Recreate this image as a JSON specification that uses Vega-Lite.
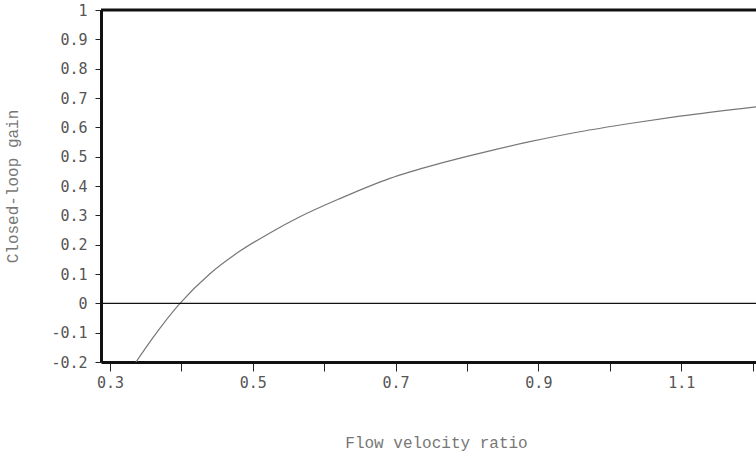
{
  "$schema": "https://vega.github.io/schema/vega-lite/v6.json",
  "autosize": {"type": "none"},
  "padding": {"left": 101, "top": 10, "right": 0, "bottom": 95},
  "width": 655,
  "height": 352,
  "background": "white",
  "config": {
    "view": {"stroke": null},
    "axis": {"grid": false, "labelFont": "DejaVu Sans Mono", "labelFontSize": 15, "labelColor": "#555", "titleFont": "Liberation Mono", "titleFontSize": 16, "titleFontWeight": "normal", "titleColor": "#777", "tickColor": "#222", "domainColor": "#111", "domainWidth": 3},
    "axisY": {"values": [-0.2, -0.1, 0, 0.1, 0.2, 0.3, 0.4, 0.5, 0.6, 0.7, 0.8, 0.9, 1], "labelExpr": "toString(datum.value)", "tickSize": 6, "labelPadding": 8, "titlePadding": 30, "labelOverlap": false, "labelFlush": false}
  },
  "layer": [
    {
      "data": {"values": [
        {"ratio": 0.3364, "gain": -0.2},
        {"ratio": 0.3607, "gain": -0.115},
        {"ratio": 0.398, "gain": 0.0},
        {"ratio": 0.44, "gain": 0.101},
        {"ratio": 0.482, "gain": 0.178},
        {"ratio": 0.524, "gain": 0.24},
        {"ratio": 0.566, "gain": 0.295},
        {"ratio": 0.622, "gain": 0.357},
        {"ratio": 0.692, "gain": 0.426},
        {"ratio": 0.762, "gain": 0.477},
        {"ratio": 0.832, "gain": 0.52},
        {"ratio": 0.888, "gain": 0.551},
        {"ratio": 0.958, "gain": 0.585},
        {"ratio": 1.028, "gain": 0.613},
        {"ratio": 1.098, "gain": 0.638},
        {"ratio": 1.2048, "gain": 0.67}
      ]},
      "mark": {"type": "line", "color": "#777", "strokeWidth": 1.2, "interpolate": "monotone", "clip": true},
      "encoding": {
        "x": {"field": "ratio", "type": "quantitative", "title": "Flow velocity ratio",
          "scale": {"domain": [0.2874, 1.2048], "nice": false, "zero": false},
          "axis": {"values": [0.3, 0.4, 0.5, 0.6, 0.7, 0.8, 0.9, 1.0, 1.1, 1.2],
            "labelExpr": "indexof(['0.3','0.5','0.7','0.9','1.1'], toString(datum.value)) >= 0 ? toString(datum.value) : ''",
            "tickSize": 9, "labelPadding": 4, "titlePadding": 44, "titleX": 335, "labelOverlap": false, "labelFlush": false}},
        "y": {"field": "gain", "type": "quantitative", "title": "Closed-loop gain",
          "scale": {"domain": [-0.2, 1], "nice": false, "zero": false}}
      }
    },
    {
      "data": {"values": [{}]},
      "mark": {"type": "rule", "color": "#111", "strokeWidth": 1.2},
      "encoding": {"y": {"datum": 0, "type": "quantitative", "title": "Closed-loop gain"}}
    },
    {
      "data": {"values": [{}]},
      "mark": {"type": "rule", "color": "#111", "strokeWidth": 3},
      "encoding": {"y": {"datum": 1, "type": "quantitative", "title": "Closed-loop gain"}}
    }
  ]
}
